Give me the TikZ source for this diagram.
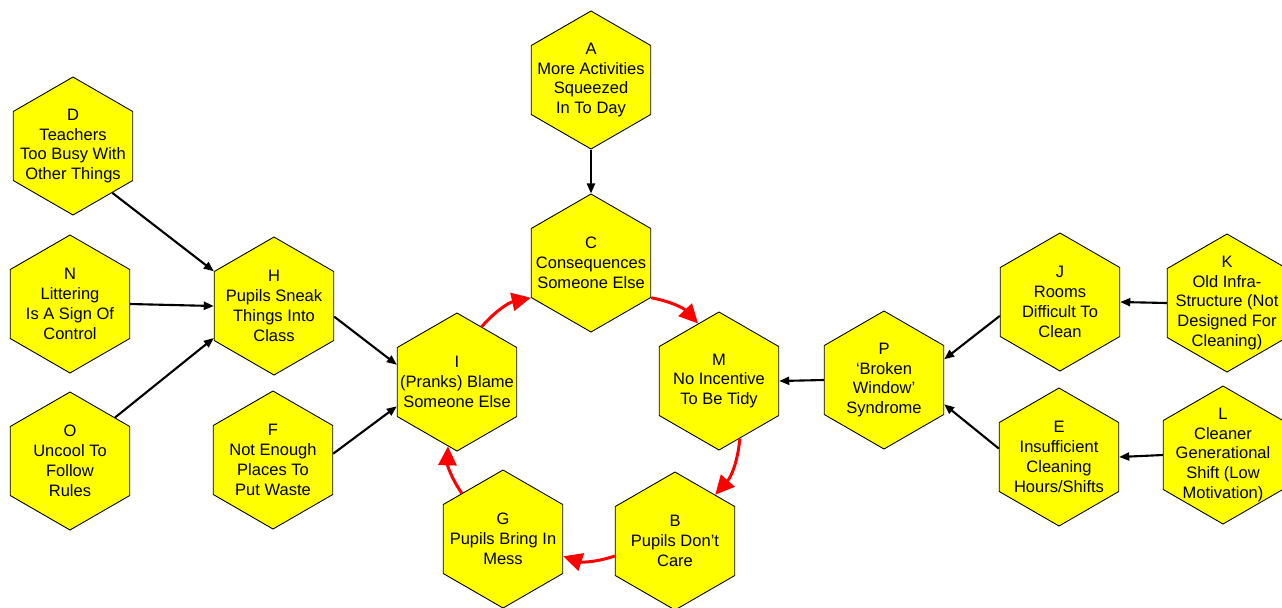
\documentclass[tikz,border=0pt]{standalone}
\usepackage{fontspec}
\setmainfont{Liberation Sans}
\usepackage{tikz}
\usetikzlibrary{shapes.geometric,arrows.meta}
\definecolor{myhexcolor}{HTML}{FFFF00}
\definecolor{myloopcolor}{HTML}{FF0000}
\tikzset{
  hexnode/.style={draw, fill=myhexcolor, line width=0.5pt, regular polygon, regular polygon sides=6, shape border rotate=30, minimum size=2.76cm, inner sep=0pt},
  hextext/.style={align=center, inner sep=0pt, font=\fontsize{9.4pt}{11.3pt}\selectfont},
  causearrow/.style={line width=1.2pt, -{Triangle[length=0.2cm, width=0.16cm]}},
  looparrow/.style={draw=myloopcolor, line width=1.7pt, -{Triangle[length=0.38cm, width=0.36cm]}, bend left=18}
}

\begin{document}
\begin{tikzpicture}%
\useasboundingbox (0, 0) rectangle (25.64, -12.14);%
% loop
\node[hexnode] (C) at (11.82, -5.26) {};%
\node[hextext] (Ctxt) at (C) {C\\Consequences\\Someone Else};%
\node[hexnode] (M) at (14.38, -7.62) {};%
\node[hextext] (Mtxt) at (M) {M\\No Incentive\\To Be Tidy};%
\node[hexnode] (B) at (13.50, -10.82) {};%
\node[hextext] (Btxt) at (B) {B\\Pupils Don’t\\Care};%
\node[hexnode] (G) at (10.06, -10.78) {};%
\node[hextext] (Gtxt) at (G) {G\\Pupils Bring In\\Mess};%
\node[hexnode] (I) at (9.14, -7.64) {};%
\node[hextext] (Itxt) at (I) {I\\(Pranks) Blame\\Someone Else};%
% top
\node[hexnode] (A) at (11.82, -1.60) {};%
\node[hextext] (Atxt) at (A) {A\\More Activities\\Squeezed\\In To Day};%
% left side
\node[hexnode] (D) at (1.46, -2.92) {};%
\node[hextext] (Dtxt) at (D) {D\\Teachers\\Too Busy With\\Other Things};%
\node[hexnode] (N) at (1.40, -6.08) {};%
\node[hextext] (Ntxt) at (N) {N\\Littering\\Is A Sign Of\\Control};%
\node[hexnode] (O) at (1.40, -9.22) {};%
\node[hextext] (Otxt) at (O) {O\\Uncool To\\Follow\\Rules};%
\node[hexnode] (H) at (5.48, -6.12) {};%
\node[hextext] (Htxt) at (H) {H\\Pupils Sneak\\Things Into\\Class};%
\node[hexnode] (F) at (5.46, -9.20) {};%
\node[hextext] (Ftxt) at (F) {F\\Not Enough\\Places To\\Put Waste};%
% right side
\node[hexnode] (P) at (17.68, -7.60) {};%
\node[hextext] (Ptxt) at (P) {P\\‘Broken\\Window’\\Syndrome};%
\node[hexnode] (J) at (21.20, -6.04) {};%
\node[hextext] (Jtxt) at (J) {J\\Rooms\\Difficult To\\Clean};%
\node[hexnode] (K) at (24.54, -6.06) {};%
\node[hextext] (Ktxt) at (K) {K\\Old Infra-\\Structure (Not\\Designed For\\Cleaning)};%
\node[hexnode] (E) at (21.18, -9.14) {};%
\node[hextext] (Etxt) at (E) {E\\Insufficient\\Cleaning\\Hours/Shifts};%
\node[hexnode] (L) at (24.46, -9.10) {};%
\node[hextext] (Ltxt) at (L) {L\\Cleaner\\Generational\\Shift (Low\\Motivation)};%
% causes
\draw[causearrow] (A.south) -- (C.north);%
\draw[causearrow] (D.-50) -- (H.150);%
\draw[causearrow] (N.east) -- (H.west);%
\draw[causearrow] (O.44) -- (H.208);%
\draw[causearrow] (H.-10) -- (I.164);%
\draw[causearrow] (F.6) -- (I.202);%
\draw[causearrow] (P.west) -- (M.east);%
\draw[causearrow] (J.193) -- (P.19);%
\draw[causearrow] (E.172) -- (P.-22);%
\draw[causearrow] (K.west) -- (J.east);%
\draw[causearrow] (L.west) -- (E.east);%
% vicious circle
\draw[looparrow] (I.66) to (C.210);%
\draw[looparrow] (C.-30) to (M.110);%
\draw[looparrow] (M.-70) to (B.49);%
\draw[looparrow] (B.194) to (G.-16);%
\draw[looparrow] (G.132) to (I.-98);%
\end{tikzpicture}
\end{document}
